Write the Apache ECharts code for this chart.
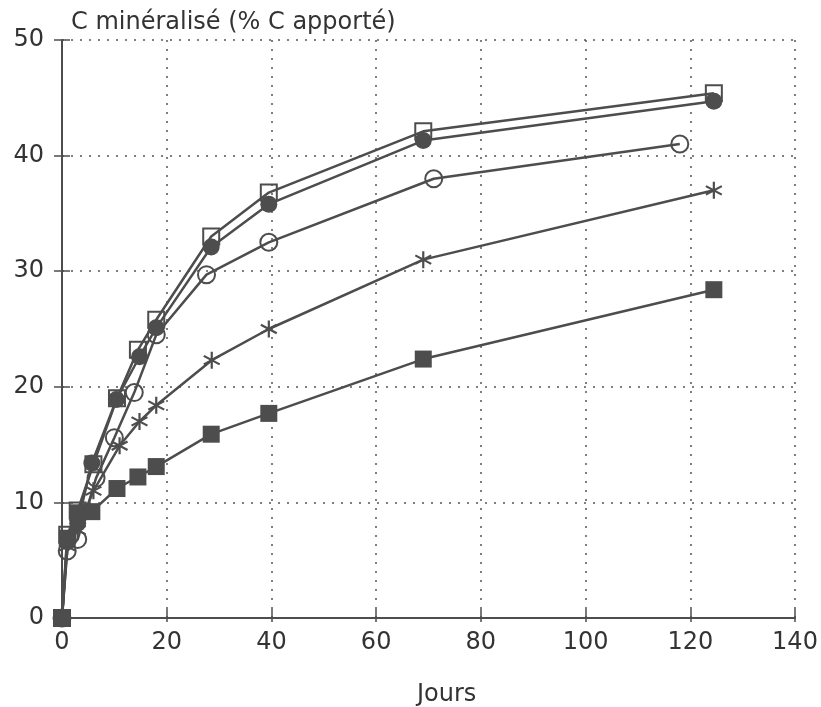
<!DOCTYPE html>
<html>
<head>
<meta charset="utf-8">
<script src="https://cdn.jsdelivr.net/npm/echarts@6/dist/echarts.min.js"></script>
<style>html,body{margin:0;padding:0;background:#fff;}#c{width:821px;height:707px;}</style>
</head>
<body>
<div id="c"></div>
<script>
// ---- data ----
const yTitle = 'C minéralisé (% C apporté)';
const xTitle = 'Jours';
const openSquareX   = [0, 1, 3, 6, 10.5, 14.5, 18, 28.5, 39.5, 69, 124.5];
const openSquareY   = [0, 7.2, 9.3, 13.3, 19.0, 23.2, 25.8, 33.0, 36.8, 42.1, 45.4];
const filledCircleX = [0, 1, 3, 5.7, 10.4, 14.8, 18, 28.5, 39.5, 69, 124.5];
const filledCircleY = [0, 6.6, 8.2, 13.4, 18.9, 22.6, 25.1, 32.1, 35.8, 41.3, 44.7];
const openCircleX   = [0, 1, 3, 6.5, 10, 13.8, 18, 27.6, 39.5, 71, 118];
const openCircleY   = [0, 5.8, 6.8, 12.1, 15.6, 19.5, 24.5, 29.7, 32.5, 38.0, 41.0];
const starX         = [0, 1, 3, 6, 11, 14.8, 18, 28.6, 39.5, 69, 124.5];
const starY         = [0, 6.2, 7.6, 11.0, 14.9, 17.0, 18.4, 22.3, 25.0, 31.0, 37.0];
const filledSquareX = [0, 1, 3, 5.7, 10.5, 14.5, 18, 28.5, 39.5, 69, 124.5];
const filledSquareY = [0, 6.9, 9.1, 9.2, 11.2, 12.2, 13.1, 15.9, 17.7, 22.4, 28.4];

const pairs = (xs, ys) => xs.map((x, i) => [x, ys[i]]);
const INK = '#4d4d4d';
const FONT = 'DejaVu Sans';
const starPath = 'path://M44,0L56,0L56,100L44,100Z M3.7,30.2L9.7,19.8L96.3,69.8L90.3,80.2Z M90.3,19.8L96.3,30.2L9.7,80.2L3.7,69.8Z';

function mk(name, data, symbol, size, filled, z) {
  return {
    name, type: 'line', data, symbol, symbolSize: size, z: z,
    xAxisIndex: 0, yAxisIndex: 0,
    lineStyle: { color: INK, width: 2.5 },
    itemStyle: filled ? { color: INK, borderColor: INK, borderWidth: 0 }
                      : { color: 'rgba(0,0,0,0)', borderColor: INK, borderWidth: 2 },
    emphasis: { disabled: true },
    animation: false
  };
}

const chart = echarts.init(document.getElementById('c'), null, { renderer: 'canvas' });
chart.setOption({
  animation: false,
  backgroundColor: '#fff',
  title: [
    { text: yTitle, left: 66, top: 6, textStyle: { fontFamily: FONT, fontSize: 24, fontWeight: 'normal', color: '#333' } },
    { text: xTitle, left: 412, top: 678, textStyle: { fontFamily: FONT, fontSize: 24, fontWeight: 'normal', color: '#333' } }
  ],
  grid: { left: 62, right: 26, top: 40, bottom: 89, containLabel: false },
  xAxis: [
    { type: 'value', min: 0, max: 140, interval: 20, position: 'bottom',
      axisLine: { show: true, onZero: false, lineStyle: { color: INK, width: 2 } },
      axisTick: { show: true, inside: false, length: 4, lineStyle: { color: INK, width: 1.5 } },
      axisLabel: { margin: 13, fontFamily: FONT, fontSize: 24, color: '#333' },
      splitLine: { show: true, lineStyle: { color: '#555', width: 1.5, type: [2, 7] } } },
    { type: 'value', min: 0, max: 140, interval: 20, position: 'bottom',
      axisLine: { show: false },
      axisTick: { show: true, inside: true, length: 9, lineStyle: { color: INK, width: 1.5 } },
      axisLabel: { show: false }, splitLine: { show: false } }
  ],
  yAxis: [
    { type: 'value', min: 0, max: 50, interval: 10, position: 'left',
      axisLine: { show: true, onZero: false, lineStyle: { color: INK, width: 2 } },
      axisTick: { show: true, inside: false, length: 8, lineStyle: { color: INK, width: 1.5 } },
      axisLabel: { margin: 18, fontFamily: FONT, fontSize: 24, color: '#333' },
      splitLine: { show: true, lineStyle: { color: '#555', width: 1.5, type: [2, 7] } } },
    { type: 'value', min: 0, max: 50, interval: 10, position: 'left',
      axisLine: { show: false },
      axisTick: { show: true, inside: true, length: 8, lineStyle: { color: INK, width: 1.5 } },
      axisLabel: { show: false }, splitLine: { show: false } }
  ],
  series: [
    mk('open square', pairs(openSquareX, openSquareY), 'rect', 16, false, 2),
    mk('filled circle', pairs(filledCircleX, filledCircleY), 'circle', 17, true, 3),
    mk('open circle', pairs(openCircleX, openCircleY), 'circle', 17, false, 2),
    mk('star', pairs(starX, starY), starPath, 17, true, 2),
    mk('filled square', pairs(filledSquareX, filledSquareY), 'rect', 17, true, 4)
  ]
});
</script>
</body>
</html>
